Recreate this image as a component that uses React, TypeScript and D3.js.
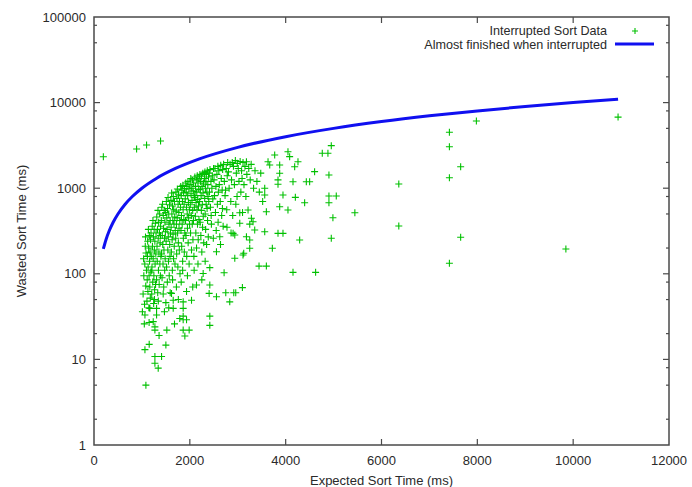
import * as d3 from "d3";
import { useEffect, useRef } from "react";

const width = 692;
const height = 487;

const xTicks = [0, 2000, 4000, 6000, 8000, 10000, 12000];
const yTicks = [1, 10, 100, 1000, 10000, 100000];
const yMinorSteps = [2, 5, 8];

// [expected ms, wasted ms]
const earlyOutliers: [number, number][] = [
  [195, 2333], [889, 2870], [1097, 3200], [1389, 3560],
];

const clusterLow: [number, number][] = [
  [1010, 36], [1025, 58], [1040, 95], [1035, 150], [1055, 44], [1060, 130], [1070, 210], [1080, 72],
  [1085, 175], [1095, 110], [1050, 26], [1075, 270], [1063, 33], [1063, 13], [1083, 5], [1152, 15],
  [1105, 48], [1110, 85], [1115, 160], [1120, 240], [1125, 62], [1130, 120], [1135, 330], [1140, 200],
  [1145, 40], [1150, 95], [1155, 280], [1160, 140], [1165, 70], [1170, 180], [1175, 52], [1180, 250],
  [1185, 105], [1190, 300], [1195, 160], [1167, 39.5], [1150, 27],
  [1205, 58], [1210, 120], [1215, 360], [1220, 210], [1225, 80], [1230, 420], [1235, 150], [1240, 270],
  [1245, 45], [1250, 95], [1255, 330], [1260, 190], [1265, 65], [1270, 240], [1275, 130], [1280, 390],
  [1285, 75], [1290, 170], [1295, 300], [1236, 27.6], [1271, 24], [1271, 22], [1271, 10.8], [1271, 9],
  [1208, 110], [1262, 50],
  [1305, 85], [1310, 460], [1315, 210], [1320, 140], [1325, 330], [1330, 60], [1335, 550], [1340, 260],
  [1345, 110], [1350, 400], [1355, 180], [1360, 75], [1365, 300], [1370, 500], [1375, 130], [1380, 230],
  [1385, 95], [1390, 360], [1395, 160], [1306, 33], [1306, 39.5], [1342, 48], [1358, 19], [1388, 280],
  [1405, 420], [1410, 170], [1415, 600], [1420, 90], [1425, 280], [1430, 650], [1435, 220], [1440, 130],
  [1445, 480], [1450, 340], [1455, 70], [1460, 190], [1465, 550], [1470, 260], [1475, 110], [1480, 400],
  [1485, 150], [1490, 310], [1495, 520], [1410, 10.8], [1340, 7.9], [1444, 58], [1470, 36],
];

const clusterMid: [number, number][] = [
  [1505, 240], [1510, 700], [1515, 120], [1520, 450], [1525, 330], [1530, 80], [1535, 580], [1540, 190],
  [1545, 780], [1550, 270], [1555, 140], [1560, 500], [1565, 380], [1570, 95], [1575, 640], [1580, 220],
  [1585, 160], [1590, 420], [1595, 300], [1500, 14.7], [1500, 46], [1520, 22], [1560, 40], [1590, 60],
  [1605, 720], [1610, 350], [1615, 180], [1620, 880], [1625, 500], [1630, 250], [1635, 110], [1640, 620],
  [1645, 420], [1650, 290], [1655, 800], [1660, 150], [1665, 560], [1670, 380], [1675, 210], [1680, 700],
  [1685, 460], [1690, 130], [1695, 320], [1618, 59], [1653, 49], [1653, 39.5], [1680, 26], [1640, 85],
  [1705, 260], [1710, 900], [1715, 540], [1720, 380], [1725, 170], [1730, 760], [1735, 450], [1740, 980],
  [1745, 300], [1750, 120], [1755, 650], [1760, 230], [1765, 850], [1770, 520], [1775, 340], [1780, 190],
  [1785, 700], [1790, 420], [1795, 100], [1720, 70], [1760, 50], [1790, 30],
  [1805, 600], [1810, 1050], [1815, 320], [1820, 820], [1825, 480], [1830, 210], [1835, 950], [1840, 380],
  [1845, 700], [1850, 140], [1855, 1080], [1860, 560], [1865, 260], [1870, 880], [1875, 430], [1880, 650],
  [1885, 180], [1890, 990], [1895, 300], [1861, 22], [1861, 29], [1861, 32], [1861, 39.5], [1861, 47],
  [1896, 18.8], [1820, 80], [1850, 110],
  [1905, 750], [1910, 420], [1915, 1150], [1920, 280], [1925, 900], [1930, 600], [1935, 160], [1940, 1050],
  [1945, 500], [1950, 340], [1955, 820], [1960, 1200], [1965, 230], [1970, 680], [1975, 450], [1980, 980],
  [1985, 130], [1990, 560], [1995, 380], [1931, 62], [1931, 29], [1986, 22], [1950, 95],
];

const clusterHigh: [number, number][] = [
  [2005, 1100], [2010, 640], [2015, 300], [2020, 1300], [2025, 860], [2030, 480], [2035, 190], [2040, 1000],
  [2045, 720], [2050, 380], [2055, 1250], [2060, 550], [2065, 250], [2070, 930], [2075, 420], [2080, 1150],
  [2085, 160], [2090, 780], [2095, 600], [2035, 49], [2060, 70], [2090, 110],
  [2105, 1350], [2110, 820], [2115, 470], [2120, 1050], [2125, 300], [2130, 680], [2135, 1250], [2140, 200],
  [2145, 900], [2150, 560], [2155, 1400], [2160, 380], [2165, 740], [2170, 1150], [2175, 250], [2180, 620],
  [2185, 980], [2190, 430], [2195, 1300], [2139, 74], [2170, 130],
  [2205, 700], [2210, 1450], [2215, 400], [2220, 960], [2225, 1200], [2230, 280], [2235, 820], [2240, 550],
  [2245, 1380], [2250, 180], [2255, 1050], [2260, 640], [2265, 350], [2270, 1500], [2275, 880], [2280, 470],
  [2285, 1150], [2290, 230], [2278, 101], [2250, 85],
  [2305, 1300], [2310, 760], [2315, 1550], [2320, 500], [2325, 1000], [2330, 330], [2335, 1200], [2340, 650],
  [2345, 1450], [2350, 220], [2355, 900], [2360, 580], [2365, 1600], [2370, 420], [2375, 1100], [2380, 800],
  [2385, 270], [2390, 1350], [2395, 700], [2320, 140],
  [2405, 1500], [2410, 900], [2417, 118], [2417, 74], [2417, 32], [2417, 25], [2403, 59], [2420, 1650],
  [2430, 600], [2440, 1200], [2450, 380], [2460, 1000], [2470, 1400], [2480, 750], [2490, 260], [2495, 1700],
  [2445, 480],
  [2505, 1250], [2515, 820], [2525, 1700], [2535, 520], [2545, 1050], [2556, 181], [2556, 54], [2565, 1450],
  [2575, 650], [2585, 1800], [2595, 900], [2550, 320], [2590, 400],
  [2605, 1600], [2615, 1100], [2625, 271], [2635, 700], [2645, 1850], [2655, 1300], [2665, 480], [2675, 950],
  [2685, 1650], [2695, 360], [2640, 220], [2680, 580],
  [2705, 1900], [2715, 103], [2720, 1200], [2735, 820], [2750, 60], [2760, 1700], [2770, 560], [2780, 1400],
  [2790, 2000], [2745, 950], [2775, 350],
  [2805, 1550], [2820, 1000], [2833, 47], [2840, 1900], [2855, 700], [2870, 1250], [2885, 2000], [2895, 480],
  [2860, 300],
  [2903, 297], [2917, 60], [2938, 284], [2938, 152], [2958, 60], [2910, 1800], [2930, 1100], [2950, 2100],
  [2970, 1500], [2985, 800], [2990, 1950], [2960, 650],
  [3010, 1700], [3025, 1200], [3042, 389], [3042, 517], [3050, 2050], [3065, 900], [3080, 1600], [3097, 69],
  [3090, 1300], [3125, 174], [3110, 166], [3110, 2000], [3130, 1100], [3150, 1800], [3181, 271], [3181, 2040],
  [3170, 800], [3190, 1450], [3215, 556], [3230, 1700], [3250, 199], [3260, 1250], [3285, 445], [3280, 1900],
  [3319, 406], [3354, 325], [3330, 1000], [3360, 1600], [3400, 1200], [3444, 123], [3450, 900], [3480, 1500],
  [3520, 700],
];

const lateScatter: [number, number][] = [
  [3563, 998], [3563, 833], [3597, 531], [3563, 310], [3597, 123], [3722, 199], [3632, 2040], [3667, 1867],
  [3771, 2440], [3840, 1250], [3840, 1110], [3875, 1494], [3875, 1867], [3875, 608], [3944, 833], [3944, 297],
  [3840, 297], [4048, 2670], [4083, 2335], [4048, 556], [4153, 1191], [4188, 1780], [4202, 782], [4257, 2040],
  [4292, 248], [4396, 677], [4431, 1191], [4500, 1191], [4604, 1560], [4153, 104], [4625, 104], [3250, 380],
  [3100, 520], [3250, 248],
  [4764, 2557], [4882, 2557], [4952, 3140], [4903, 1426], [5056, 811], [4903, 811], [4903, 677], [4986, 452],
  [5444, 517], [4952, 260], [6361, 1120], [6361, 362], [7417, 4500], [7417, 3050], [7652, 1783], [7417, 1327],
  [7652, 267], [9848, 195], [7417, 133], [7980, 6100], [10937, 6770],
];

// "almost finished" reference line
const lineExpected = [195, 250, 320, 400, 500, 650, 800, 1000, 1300, 1700, 2200, 3000, 4000, 5000, 6000, 7000, 8000, 9000, 10000, 10937];
const lineWasted = [195, 250, 320, 400, 500, 650, 800, 1000, 1300, 1700, 2200, 3000, 4000, 5000, 6000, 7000, 8000, 9000, 10000, 10937];

const font = "'Liberation Sans', Arial, Helvetica, sans-serif";

export default function App() {
  const ref = useRef<SVGSVGElement>(null);

  useEffect(() => {
    const svg = d3.select(ref.current);
    svg.selectAll("*").remove();

    const x = d3.scaleLinear().domain([0, 12000]).range([94, 669]);
    const y = d3.scaleLog().domain([1, 100000]).range([445, 17]);
    const [x0, x1] = x.range();
    const [y0, y1] = y.range();

    const axisColor = "#4a4a4a";
    const g = svg.append("g");

    // frame
    g.append("rect")
      .attr("x", x0)
      .attr("y", y1)
      .attr("width", x1 - x0)
      .attr("height", y0 - y1)
      .attr("fill", "none")
      .attr("stroke", axisColor)
      .attr("stroke-width", 1.5);

    // x ticks (bottom + mirrored top)
    const xt = g.append("g").attr("stroke", axisColor).attr("stroke-width", 1.2);
    xTicks.slice(1, -1).forEach((t) => {
      xt.append("line").attr("x1", x(t)).attr("x2", x(t)).attr("y1", y0).attr("y2", y0 - 6);
      xt.append("line").attr("x1", x(t)).attr("x2", x(t)).attr("y1", y1).attr("y2", y1 + 6);
    });

    // y ticks, majors and minors, both sides
    const yt = g.append("g").attr("stroke", axisColor).attr("stroke-width", 1.2);
    yTicks.forEach((t, i) => {
      if (i > 0 && i < yTicks.length - 1) {
        yt.append("line").attr("x1", x0).attr("x2", x0 + 6).attr("y1", y(t)).attr("y2", y(t));
        yt.append("line").attr("x1", x1).attr("x2", x1 - 6).attr("y1", y(t)).attr("y2", y(t));
      }
      if (i < yTicks.length - 1) {
        yMinorSteps.forEach((m) => {
          const v = t * m;
          yt.append("line").attr("x1", x0).attr("x2", x0 + 3).attr("y1", y(v)).attr("y2", y(v));
          yt.append("line").attr("x1", x1).attr("x2", x1 - 3).attr("y1", y(v)).attr("y2", y(v));
        });
      }
    });

    const labels = g.append("g").attr("font-family", font).attr("font-size", 13).attr("fill", "#2a2a2a");

    labels
      .selectAll(".xl")
      .data(xTicks)
      .join("text")
      .attr("x", (d) => x(d))
      .attr("y", 465)
      .attr("text-anchor", "middle")
      .text((d) => String(d));

    labels
      .selectAll(".yl")
      .data(yTicks)
      .join("text")
      .attr("x", 86)
      .attr("y", (d) => y(d))
      .attr("dy", "0.35em")
      .attr("text-anchor", "end")
      .text((d) => String(d));

    labels
      .append("text")
      .attr("x", (x0 + x1) / 2)
      .attr("y", 485)
      .attr("text-anchor", "middle")
      .text("Expected Sort Time (ms)");

    labels
      .append("text")
      .attr("transform", `translate(26,${(y0 + y1) / 2}) rotate(-90)`)
      .attr("text-anchor", "middle")
      .text("Wasted Sort Time (ms)");

    // data points as "+" markers
    const green = "#00c000";
    const allPoints = [...earlyOutliers, ...clusterLow, ...clusterMid, ...clusterHigh, ...lateScatter];
    const plus = (px: number, py: number, r: number) =>
      `M${px - r},${py}H${px + r}M${px},${py - r}V${py + r}`;

    g.append("path")
      .attr("fill", "none")
      .attr("stroke", green)
      .attr("stroke-width", 1.1)
      .attr("d", allPoints.map(([a, b]) => plus(x(a), y(b), 3.5)).join(""));

    // reference line
    const lineData = lineExpected.map((d, i) => [d, lineWasted[i]] as [number, number]);
    const line = d3
      .line<[number, number]>()
      .x((d) => x(d[0]))
      .y((d) => y(d[1]))
      .curve(d3.curveMonotoneX);

    g.append("path")
      .datum(lineData)
      .attr("fill", "none")
      .attr("stroke", "#1010f0")
      .attr("stroke-width", 3)
      .attr("d", line);

    // legend
    const lg = g.append("g").attr("font-family", font).attr("font-size", 12.6).attr("fill", "#2a2a2a");
    lg.append("text").attr("x", 607).attr("y", 31).attr("dy", "0.35em").attr("text-anchor", "end").text("Interrupted Sort Data");
    lg.append("text").attr("x", 607).attr("y", 45).attr("dy", "0.35em").attr("text-anchor", "end").text("Almost finished when interrupted");
    lg.append("path").attr("d", plus(635, 31, 3)).attr("stroke", green).attr("stroke-width", 1.1).attr("fill", "none");
    lg.append("line").attr("x1", 615).attr("x2", 654).attr("y1", 44).attr("y2", 44).attr("stroke", "#1010f0").attr("stroke-width", 3);
  }, []);

  return (
    <svg
      ref={ref}
      width={width}
      height={height}
      style={{ position: "absolute", left: 0, top: 0, background: "#fff" }}
    ></svg>
  );
}
